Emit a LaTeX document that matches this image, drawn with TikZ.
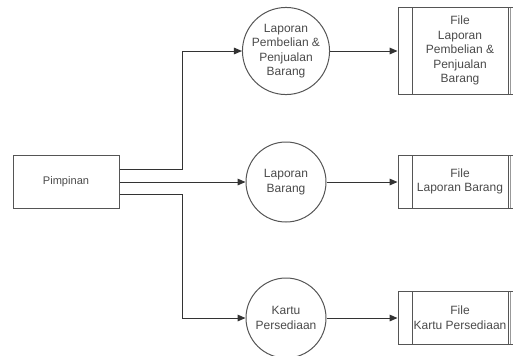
\documentclass[tikz,border=0pt]{standalone}
\usepackage{fontspec}
\setmainfont{Liberation Sans}
\usetikzlibrary{arrows.meta,shapes.geometric}
\definecolor{linec}{HTML}{333333}
\definecolor{boxc}{HTML}{555555}
\definecolor{textc}{HTML}{4A4A4A}
\begin{document}
\begin{tikzpicture}[x=0.75pt,y=-0.75pt,
  every node/.style={font=\fontsize{9}{10.9}\selectfont, text=textc, align=center, inner sep=0pt},
  entity/.style={draw=boxc, line width=0.75pt, rectangle, minimum width=79.5pt, minimum height=39.75pt},
  proc/.style={draw=boxc, line width=0.75pt, circle, minimum size=60pt},
  store/.style={draw=boxc, line width=0.75pt, rectangle, minimum width=93pt,
    path picture={
      \draw[boxc, line width=0.75pt] ([xshift=10.5pt]path picture bounding box.north west) -- ([xshift=10.5pt]path picture bounding box.south west);
      \draw[boxc, line width=0.75pt] ([xshift=-10.5pt]path picture bounding box.north east) -- ([xshift=-10.5pt]path picture bounding box.south east);
      \draw[boxc!60, line width=0.6pt] ([xshift=-8.4pt]path picture bounding box.north east) -- ([xshift=-8.4pt]path picture bounding box.south east);
    }},
  flow/.style={draw=linec, line width=0.75pt, -{Triangle[length=6pt,width=5pt]}},
  link/.style={draw=linec, line width=0.75pt}
]
\useasboundingbox (0,0) rectangle (513,355);

\node[entity, font=\fontsize{8.3}{10}\selectfont] (pim) at (66,182) {Pimpinan};

\node[proc] (c1) at (286,51) {Laporan\\Pembelian \&\\Penjualan\\Barang};
\node[proc] (c2) at (286,182) {Laporan\\Barang};
\node[proc] (c3) at (286,318) {Kartu\\Persediaan};

\node[store, minimum height=65.25pt] (s1) at (460,50.5) {File\\Laporan\\Pembelian \&\\Penjualan\\Barang};
\node[store, minimum height=39.75pt] (s2) at (460,181.5) {File\\Laporan Barang};
\node[store, minimum height=39.75pt] (s3) at (460,317.5) {File\\Kartu Persediaan};

\draw[flow] ([yshift=9.75pt]pim.east) -- ++(63,0) |- (c1.west);
\draw[flow] (pim.east) -- (c2.west);
\draw[flow] ([yshift=-9pt]pim.east) -- ++(63,0) |- (c3.west);

\draw[flow] (c1.east) -- (c1.east -| s1.west);
\draw[flow] (c2.east) -- (c2.east -| s2.west);
\draw[flow] (c3.east) -- (c3.east -| s3.west);
\end{tikzpicture}
\end{document}
